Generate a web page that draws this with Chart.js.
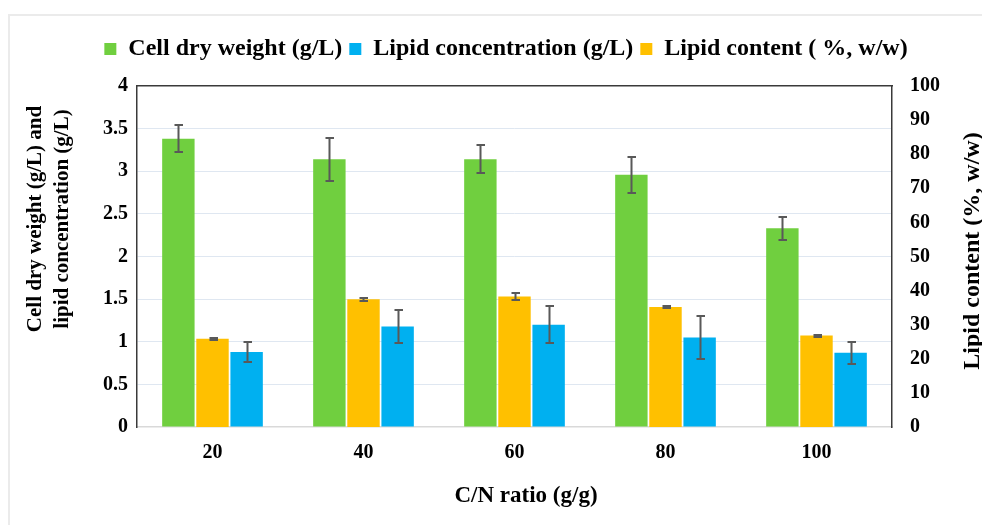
<!DOCTYPE html>
<html>
<head>
<meta charset="utf-8">
<script src="https://cdn.jsdelivr.net/npm/chart.js@4.4.1/dist/chart.umd.min.js"></script>
<style>
  html, body { margin: 0; padding: 0; background: #ffffff; overflow: hidden; }
  #wrap { position: relative; width: 982px; height: 525px; }
  #frame { position: absolute; left: 8px; top: 14px; width: 1000px; height: 600px;
           border-left: 2px solid #ebebeb; border-top: 2px solid #ebebeb; }
  #c { position: absolute; left: 0; top: 0; }
</style>
</head>
<body>
<div id="wrap">
  <div id="frame"></div>
  <canvas id="c" width="982" height="525"></canvas>
</div>
<script>
// ---- data ----
const categories = ['20', '40', '60', '80', '100'];
const cellDryWeight = [3.38, 3.14, 3.14, 2.96, 2.33];          // g/L
const cellDryWeightErr = [0.16, 0.25, 0.165, 0.21, 0.135];
const lipidConcentration = [0.88, 1.18, 1.20, 1.05, 0.87];     // g/L
const lipidConcentrationErr = [0.115, 0.19, 0.22, 0.25, 0.13];
const lipidContent = [25.9, 37.45, 38.3, 35.2, 26.8];          // %, w/w
const lipidContentErr = [0.25, 0.5, 1.0, 0.2, 0.3];
const leftTicks = { min: 0, max: 4, step: 0.5 };
const rightTicks = { min: 0, max: 100, step: 10 };
const seriesNames = ['Cell dry weight (g/L)', 'Lipid concentration (g/L)', 'Lipid content ( %, w/w)'];
const leftTitle = ['Cell dry weight (g/L) and', 'lipid concentration (g/L)'];
const rightTitle = 'Lipid content (%, w/w)';
const xTitle = 'C/N ratio (g/g)';

const SERIF = '"Liberation Serif", "Times New Roman", serif';
const GREEN = '#70cf3f', BLUE = '#00b0f0', ORANGE = '#ffc000';
const DARK = '#3a3a3a';

// target chart area
const AREA = { left: 137, right: 892, top: 86, bottom: 427 };
const PAD = { left: 30, top: 30 };

const errorBars = {
  id: 'errorBars',
  afterDatasetsDraw(chart) {
    const ctx = chart.ctx;
    ctx.save();
    ctx.strokeStyle = '#595959';
    ctx.lineWidth = 2;
    chart.data.datasets.forEach((ds, i) => {
      const meta = chart.getDatasetMeta(i);
      const sc = chart.scales[ds.yAxisID];
      meta.data.forEach((bar, j) => {
        const v = ds.data[j], e = ds.errors[j];
        const yT = Math.round(sc.getPixelForValue(v + e));
        const yB = Math.round(sc.getPixelForValue(v - e));
        const x = Math.round(bar.x) + 0.5;
        ctx.beginPath();
        ctx.moveTo(x, yT); ctx.lineTo(x, yB);
        ctx.moveTo(x - 4, yT); ctx.lineTo(x + 4.5, yT);
        ctx.moveTo(x - 4, yB); ctx.lineTo(x + 4.5, yB);
        ctx.stroke();
      });
    });
    ctx.restore();
  }
};

const axisTitles = {
  id: 'axisTitles',
  afterDraw(chart) {
    const ctx = chart.ctx, ca = chart.chartArea;
    ctx.save();
    ctx.fillStyle = '#000';
    ctx.textAlign = 'center';
    ctx.textBaseline = 'alphabetic';
    // left title (two lines, reading upwards)
    ctx.font = 'bold 21px ' + SERIF;
    const ly = ca.top + 133;
    [[ca.left - 96, leftTitle[0]], [ca.left - 69, leftTitle[1]]].forEach(([bx, t]) => {
      ctx.save(); ctx.translate(bx, ly); ctx.rotate(-Math.PI / 2); ctx.fillText(t, 0, 0); ctx.restore();
    });
    // right title (reading upwards)
    ctx.font = 'bold 24px ' + SERIF;
    ctx.save(); ctx.translate(ca.right + 87, ca.top + 165); ctx.rotate(-Math.PI / 2); ctx.fillText(rightTitle, 0, 0); ctx.restore();
    // x title
    ctx.font = 'bold 23px ' + SERIF;
    ctx.fillText(xTitle, ca.left + 389, ca.bottom + 75);
    ctx.restore();
  }
};

const legendOrder = [0, 2, 1]; // dataset index -> legend rank

const chart = new Chart(document.getElementById('c'), {
  type: 'bar',
  data: {
    labels: categories,
    datasets: [
      { label: seriesNames[0], data: cellDryWeight, errors: cellDryWeightErr, backgroundColor: GREEN, yAxisID: 'y', xAxisID: 'x' },
      { label: seriesNames[2], data: lipidContent, errors: lipidContentErr, backgroundColor: ORANGE, yAxisID: 'y1', xAxisID: 'x' },
      { label: seriesNames[1], data: lipidConcentration, errors: lipidConcentrationErr, backgroundColor: BLUE, yAxisID: 'y', xAxisID: 'x' }
    ]
  },
  options: {
    responsive: false,
    animation: false,
    devicePixelRatio: 1,
    layout: { padding: { left: PAD.left, top: PAD.top, right: 0, bottom: 0 } },
    datasets: { bar: { categoryPercentage: 0.678, barPercentage: 0.95 } },
    plugins: {
      tooltip: { enabled: false },
      legend: {
        position: 'top',
        align: 'center',
        labels: {
          boxWidth: 12, boxHeight: 12, padding: 7, color: '#000',
          font: { family: SERIF, size: 24, weight: 'bold' },
          sort: (a, b) => legendOrder[a.datasetIndex] - legendOrder[b.datasetIndex]
        }
      }
    },
    scales: {
      x: {
        type: 'category', position: 'bottom',
        grid: { display: false, drawTicks: false },
        border: { display: true, color: '#d9d9d9', width: 1.5 },
        ticks: { color: '#000', padding: 14, font: { family: SERIF, size: 20, weight: 'bold' } },
        afterFit: s => { s.height = 525 - AREA.bottom; }
      },
      xTop: {
        type: 'category', position: 'top',
        grid: { display: false, drawTicks: false },
        border: { display: true, color: DARK, width: 1.5 },
        ticks: { display: false },
        afterFit: s => { s.height = AREA.top - PAD.top - (s.chart.legend ? s.chart.legend.height : 0); }
      },
      y: {
        position: 'left', min: leftTicks.min, max: leftTicks.max,
        ticks: {
          stepSize: leftTicks.step, color: '#000', padding: 9,
          font: { family: SERIF, size: 20, weight: 'bold' },
          callback: v => String(Math.round(v * 10) / 10)
        },
        grid: {
          drawTicks: false, lineWidth: 1,
          color: c => (c.tick && (c.tick.value === leftTicks.min || c.tick.value === leftTicks.max)) ? 'rgba(0,0,0,0)' : '#dfe7f1'
        },
        border: { display: true, color: DARK, width: 1.5 },
        afterFit: s => { s.width = AREA.left - PAD.left; }
      },
      y1: {
        position: 'right', min: rightTicks.min, max: rightTicks.max,
        ticks: { stepSize: rightTicks.step, color: '#000', padding: 18, font: { family: SERIF, size: 20, weight: 'bold' } },
        grid: { display: false, drawTicks: false },
        border: { display: true, color: DARK, width: 1.5 },
        afterFit: s => { s.width = 982 - AREA.right; }
      }
    }
  },
  plugins: [errorBars, axisTitles]
});
</script>
</body>
</html>
